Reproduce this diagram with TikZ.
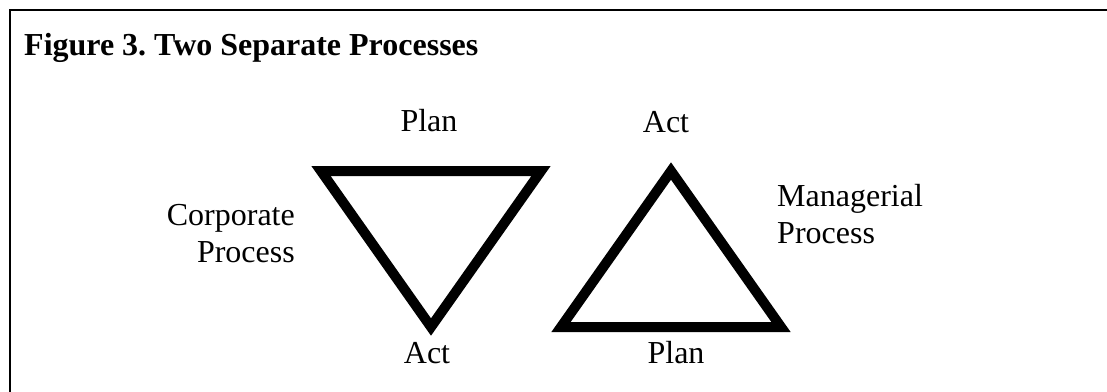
\documentclass[tikz,border=0pt]{standalone}
\usepackage{fontspec}
\setmainfont{Liberation Serif}
\usepackage{tikz}
\usetikzlibrary{positioning}

\begin{document}
\begin{tikzpicture}[
  x=1pt, y=-1pt,
  lab/.style={font=\fontsize{32}{37}\selectfont, inner sep=0pt},
  tri/.style={line width=10pt, miter limit=10, line join=miter},
  frame/.style={line width=2pt}]
  \useasboundingbox (0,0) rectangle (1107,391);
  % frame, only top and left edge are visible
  \coordinate (fr-tl) at (10,10);
  \coordinate (fr-tr) at (1110,10);
  \coordinate (fr-bl) at (10,395);
  \draw[frame] (fr-tr) -- (fr-tl) -- (fr-bl);
  \node[lab, font=\fontsize{32}{37}\selectfont\bfseries, anchor=base west] (title) at (24,55) {Figure 3.\ Two Separate Processes};
  % corporate triangle (pointing down)
  \coordinate (c-l) at (321,171);
  \coordinate (c-r) at (541,171);
  \coordinate (c-b) at (431,327);
  \draw[tri] (c-l) -- (c-r) -- (c-b) -- cycle;
  % managerial triangle (pointing up)
  \coordinate (m-l) at (561,327);
  \coordinate (m-r) at (781,327);
  \coordinate (m-t) at (671,171);
  \draw[tri] (m-l) -- (m-r) -- (m-t) -- cycle;
  % labels
  \node[lab, anchor=base] (c-plan) at (429,131) {Plan};
  \node[lab, anchor=base] (c-act) at (427,363) {Act};
  \node[lab, anchor=base] (m-act) at (666,132) {Act};
  \node[lab, anchor=base] (m-plan) at (676,363) {Plan};
  \node[lab, align=right, anchor=base east] (corp) at (295,262) {Corporate\\Process};
  \node[lab, align=left, anchor=base west] (mgr) at (777,243) {Managerial\\Process};
\end{tikzpicture}
\end{document}
